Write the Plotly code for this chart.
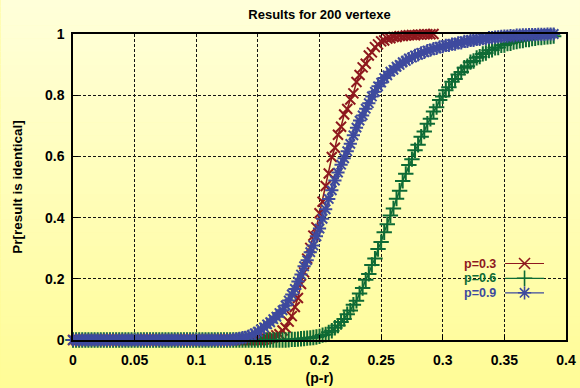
import plotly.graph_objects as go

# ---------------- data ----------------
x_step = 0.0025  # sampling interval of (p-r)

p03_vals = [0.0] * 62 + [
    0.002, 0.004, 0.007, 0.009, 0.015, 0.019, 0.031, 0.040, 0.060, 0.078,
    0.108, 0.137, 0.183, 0.221, 0.266, 0.301, 0.341, 0.368, 0.414, 0.452,
    0.503, 0.544, 0.598, 0.628, 0.671, 0.697, 0.737, 0.755, 0.786, 0.806,
    0.843, 0.866, 0.891, 0.903, 0.930, 0.940, 0.957, 0.966, 0.976, 0.979,
    0.985, 0.986, 0.990, 0.990, 0.993, 0.993, 0.995, 0.996, 0.997, 0.996,
    0.998, 0.998, 0.999, 0.999, 0.999, 1.0]

p06_vals = [0.0] * 70 + [
    0.001, 0.002, 0.002, 0.003, 0.004, 0.005, 0.006, 0.007, 0.008, 0.010,
    0.012, 0.016, 0.018, 0.025, 0.030, 0.040, 0.047, 0.059, 0.069, 0.084,
    0.096, 0.115, 0.128, 0.152, 0.170, 0.197, 0.216, 0.245, 0.266, 0.297,
    0.320, 0.352, 0.378, 0.407, 0.430, 0.462, 0.488, 0.520, 0.543, 0.572,
    0.591, 0.620, 0.638, 0.664, 0.681, 0.707, 0.723, 0.747, 0.761, 0.784,
    0.796, 0.816, 0.826, 0.844, 0.853, 0.868, 0.876, 0.890, 0.895, 0.908,
    0.912, 0.922, 0.926, 0.935, 0.938, 0.946, 0.948, 0.955, 0.956, 0.963,
    0.964, 0.969, 0.970, 0.974, 0.975, 0.978, 0.979, 0.982, 0.982, 0.985,
    0.986, 0.988, 0.988, 0.990, 0.991, 0.992, 0.993]

p09_vals = [0.0] * 52 + [
    0.002, 0.003, 0.005, 0.008, 0.009, 0.013, 0.016, 0.022, 0.027, 0.035,
    0.041, 0.051, 0.058, 0.068, 0.076, 0.088, 0.097, 0.113, 0.129, 0.149,
    0.167, 0.191, 0.214, 0.241, 0.261, 0.287, 0.309, 0.339, 0.364, 0.396,
    0.427, 0.461, 0.489, 0.521, 0.547, 0.573, 0.594, 0.617, 0.641, 0.669,
    0.694, 0.717, 0.734, 0.756, 0.774, 0.796, 0.811, 0.829, 0.841, 0.856,
    0.865, 0.877, 0.883, 0.893, 0.899, 0.908, 0.912, 0.920, 0.923, 0.930,
    0.932, 0.938, 0.940, 0.946, 0.947, 0.952, 0.953, 0.958, 0.959, 0.963,
    0.963, 0.967, 0.967, 0.971, 0.971, 0.976, 0.976, 0.979, 0.979, 0.982,
    0.982, 0.985, 0.985, 0.988, 0.988, 0.990, 0.991, 0.992, 0.993, 0.993,
    0.995, 0.994, 0.996, 0.996, 0.997, 0.997, 0.998, 0.998, 0.998, 0.999,
    0.999, 0.999, 1.0, 1.0, 1.0]

series_names = ["p=0.3", "p=0.6", "p=0.9"]
series_vals = [p03_vals, p06_vals, p09_vals]
x_tickvals = [0, 0.05, 0.1, 0.15, 0.2, 0.25, 0.3, 0.35, 0.4]
x_ticktext = ["0", "0.05", "0.1", "0.15", "0.2", "0.25", "0.3", "0.35", "0.4"]
y_tickvals = [0, 0.2, 0.4, 0.6, 0.8, 1]
y_ticktext = ["0", "0.2", "0.4", "0.6", "0.8", "1"]

# ---------------- style ----------------
colors = ["rgb(142,24,30)", "rgb(14,107,53)", "rgb(62,74,158)"]
symbols = ["x-thin", "cross-thin", "asterisk"]
msizes = [10, 11, 11]
FONT = "Liberation Sans"

W, H = 580, 388
ML, MR, MT, MB = 72.5, 14, 34, 48
pw, ph = W - ML - MR, H - MT - MB

fig = go.Figure()

for name, vals, c, s, ms in zip(series_names, series_vals, colors, symbols, msizes):
    xs = [round(i * x_step, 4) for i in range(len(vals))]
    fig.add_trace(go.Scatter(
        x=xs, y=vals, mode="lines+markers", name=name, showlegend=False,
        cliponaxis=False,
        line=dict(color=c, width=1.5),
        marker=dict(symbol=s, size=ms, color=c, line=dict(color=c, width=2)),
    ))

# legend samples (gnuplot style: text on the left, sample on the right)
leg_y_px = [263.5, 278.3, 292.8]
for name, c, s, ms, ypx in zip(series_names, colors, symbols, msizes, leg_y_px):
    yp = (H - MB - ypx) / ph
    fig.add_trace(go.Scatter(
        x=[0, 0.5, 1], y=[yp, yp, yp], mode="lines", xaxis="x2", yaxis="y2",
        showlegend=False, hoverinfo="skip", cliponaxis=False,
        line=dict(color=c, width=1.2)))
    fig.add_trace(go.Scatter(
        x=[0.5], y=[yp], mode="markers", xaxis="x2", yaxis="y2",
        showlegend=False, hoverinfo="skip", cliponaxis=False,
        marker=dict(symbol=s, size=11, color=c, line=dict(color=c, width=1.6))))
    fig.add_annotation(
        x=(497 - ML) / pw, y=yp, xref="paper", yref="paper",
        xanchor="right", yanchor="middle", text=name, showarrow=False,
        borderpad=0,
        font=dict(family=FONT, size=12.5, color=c, weight="bold"))

# vertical gradient background
n_bands = 60
top_c = (255, 255, 218)
bot_c = (255, 252, 150)
y0p, y1p = -MB / ph, 1 + MT / ph
x0p, x1p = -ML / pw, 1 + MR / pw
shapes = []
for i in range(n_bands):
    t = (i + 0.5) / n_bands
    col = tuple(round(bot_c[k] + (top_c[k] - bot_c[k]) * t) for k in range(3))
    ya = y0p + (y1p - y0p) * i / n_bands
    yb = y0p + (y1p - y0p) * (i + 1) / n_bands + 0.002
    shapes.append(dict(type="rect", xref="paper", yref="paper", layer="below",
                       x0=x0p, x1=x1p, y0=ya, y1=yb, line=dict(width=0),
                       fillcolor="rgb(%d,%d,%d)" % col))

axis_font = dict(family=FONT, size=14, color="black", weight="bold")
common = dict(showline=True, linecolor="black", linewidth=1.5, mirror=True,
              ticks="inside", ticklen=5, tickcolor="black", tickwidth=1,
              showgrid=True, gridcolor="rgb(20,20,20)", gridwidth=1,
              griddash="3px,2px", zeroline=False, tickfont=axis_font)

fig.update_layout(
    width=W, height=H,
    margin=dict(l=ML, r=MR, t=MT, b=MB, autoexpand=False),
    paper_bgcolor="rgb(255,252,150)", plot_bgcolor="rgba(0,0,0,0)",
    shapes=shapes,
    title=dict(text="Results for 200 vertexe", x=0.5, xref="paper",
               y=1 - 14 / H, yref="container", xanchor="center", yanchor="middle",
               font=dict(family=FONT, size=13, color="black", weight="bold")),
    xaxis=dict(range=[0, 0.4], tickvals=x_tickvals, ticktext=x_ticktext,
               ticklabelstandoff=6,
               title=dict(text="(p-r)", standoff=7,
                          font=dict(family=FONT, size=14, color="black", weight="bold")),
               **common),
    yaxis=dict(range=[0, 1], tickvals=y_tickvals, ticktext=y_ticktext,
               ticklabelstandoff=4,
               title=dict(text="Pr[result is identical]", standoff=19,
                          font=dict(family=FONT, size=13.5, color="black", weight="bold")),
               **common),
    xaxis2=dict(domain=[(505 - ML) / pw, (544 - ML) / pw], range=[0, 1],
                anchor="y2", visible=False, fixedrange=True),
    yaxis2=dict(domain=[0, 1], range=[0, 1], anchor="x2", overlaying="y",
                visible=False, fixedrange=True),
    showlegend=False,
)

fig.write_html("out.html")
